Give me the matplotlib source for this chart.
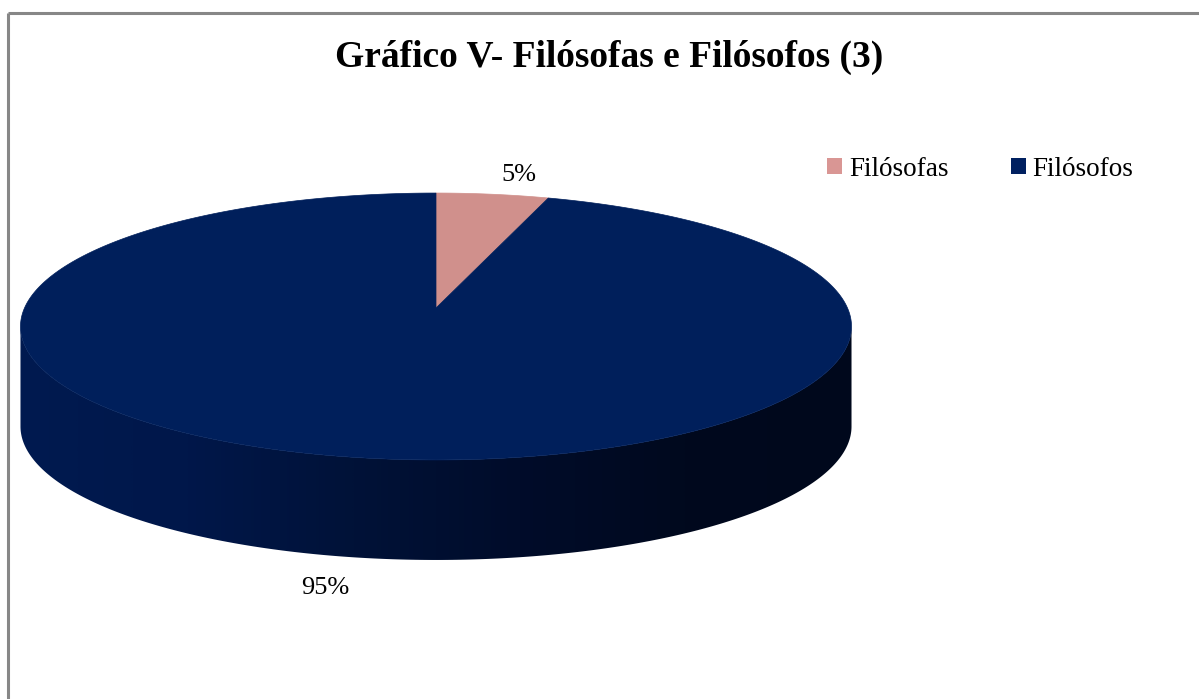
import numpy as np
import matplotlib
matplotlib.use("Agg")
import matplotlib.pyplot as plt
from matplotlib.patches import Polygon, Patch
from matplotlib.colors import LinearSegmentedColormap

# ---- data ----
categories = ["Filósofas", "Filósofos"]
values = [5, 95]
labels = ["5%", "95%"]
title = "Gráfico V- Filósofas e Filósofos (3)"
top_colors = ["#D0908C", "#001F5B"]
legend_colors = ["#D99694", "#002060"]

W, H = 1199, 699
fig = plt.figure(figsize=(W / 100, H / 100), dpi=100)
ax = fig.add_axes([0, 0, 1, 1])
ax.set_xlim(0, W)
ax.set_ylim(H, 0)
ax.axis("off")

# ---- perspective pie geometry (pixels) ----
cx, cy = 436.0, 308.0
A, B, k = 411.5, 130.9, 0.1386
depth = 100.0


def proj(phi_deg, r=1.0):
    p = np.radians(phi_deg)
    d = 1 + k * np.sin(p) * r
    return cx + A * r * np.cos(p) / d, cy - B * r * np.sin(p) / d


# side (front visible part)
a0 = np.degrees(np.arcsin(k))
phis = np.linspace(180 + a0, 360 - a0, 300)
tx, ty = proj(phis)
side_x = np.concatenate([tx, tx[::-1]])
side_y = np.concatenate([ty, ty[::-1] + depth])
side = Polygon(np.column_stack([side_x, side_y]), closed=True, facecolor="none",
               edgecolor="none")
ax.add_patch(side)
cmap = LinearSegmentedColormap.from_list(
    "side", ["#001A50", "#00174A", "#001238", "#000C2A", "#00091E", "#00081C"])
grad = np.linspace(0, 1, 512).reshape(1, -1)
im = ax.imshow(grad, cmap=cmap, extent=[tx.min(), tx.max(), ty.max() + depth, ty.min()],
               aspect="auto", zorder=1)
im.set_clip_path(side)

# top face wedges (start at 90 deg, clockwise)
fracs = np.array(values, dtype=float) / sum(values)
start = 90.0
for frac, col in zip(fracs, top_colors):
    end = start - 360 * frac
    ang = np.linspace(start, end, 400)
    ex, ey = proj(ang)
    pts = np.column_stack([np.concatenate([[cx], ex]), np.concatenate([[cy], ey])])
    ax.add_patch(Polygon(pts, closed=True, facecolor=col, edgecolor=col,
                         linewidth=0.5, zorder=2))
    start = end

# data labels
ax.text(519, 175, labels[0], ha="center", va="center", fontsize=19,
        family="Liberation Serif", color="black")
ax.text(325, 588, labels[1], ha="center", va="center", fontsize=19,
        family="Liberation Serif", color="black")

# title
ax.text(609, 57, title, ha="center", va="center", fontsize=27, fontweight="bold",
        family="Liberation Serif", color="black")

# legend
handles = [Patch(facecolor=c, edgecolor="none", label=l)
           for c, l in zip(legend_colors, categories)]
leg = ax.legend(handles=handles, loc="center left", bbox_to_anchor=(827 / W, 1 - 169 / H),
                ncol=2, frameon=False, handlelength=0.55, handleheight=0.55,
                handletextpad=0.26, columnspacing=2.3, borderpad=0, borderaxespad=0,
                prop={"family": "Liberation Serif", "size": 19.5})

# chart frame (left and top edges visible)
ax.plot([7.5, 7.5], [699, 13], color="#878787", lw=2.2, solid_capstyle="butt")
ax.plot([7.5, 1199], [13, 13], color="#878787", lw=2.2, solid_capstyle="butt")

fig.savefig("out.png", dpi=100)
